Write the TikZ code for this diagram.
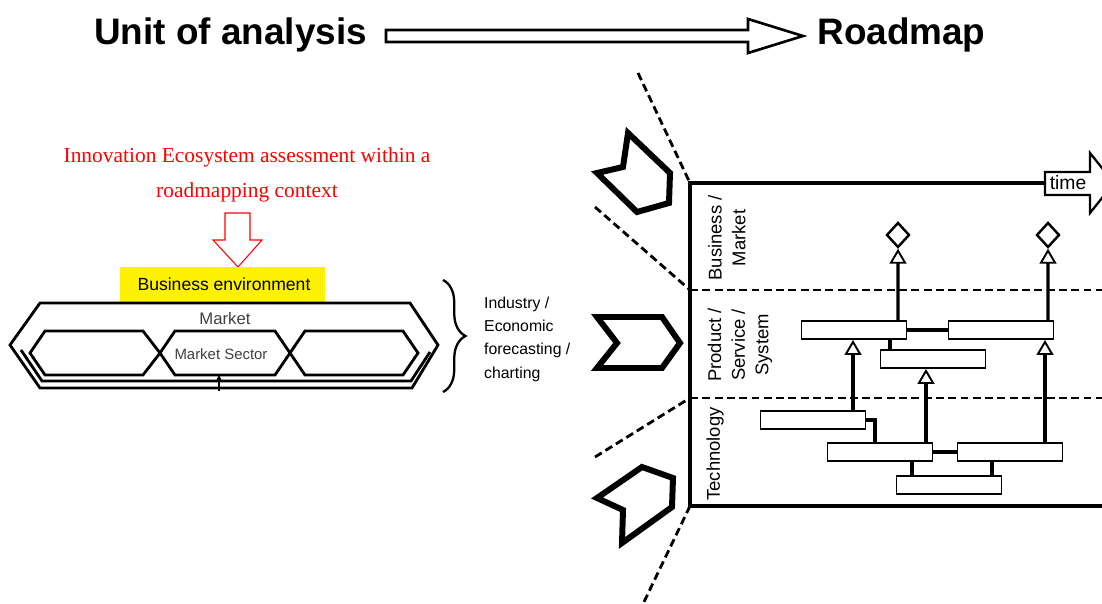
\documentclass[tikz,border=0pt]{standalone}
\usepackage{fontspec}
\setmainfont{Liberation Sans}
\newfontfamily\redserif{Liberation Serif}
\usetikzlibrary{arrows.meta,shapes.geometric,decorations.pathreplacing}

\begin{document}
\begin{tikzpicture}[x=0.02cm,y=-0.02cm,
    bar/.style={draw,line width=1.1pt,fill=white,minimum width=2.1cm,minimum height=0.36cm,inner sep=0pt},
    goal/.style={draw,diamond,line width=1.4pt,minimum width=0.46cm,minimum height=0.5cm,inner sep=0pt},
    link/.style={line width=1.8pt},
    up/.style={line width=1.8pt,-{Triangle[open,length=0.3cm,width=0.34cm,line width=1.1pt]}},
    lane/.style={rotate=90,align=center,font=\fontsize{10.5}{13.5}\selectfont},
    chev/.style={line width=3.4pt,line join=miter},
    hexa/.style={line width=1.6pt,line join=miter},
    split/.style={line width=1.6pt,dash pattern=on 4.5pt off 2.5pt},
    title/.style={font=\fontsize{21}{24}\selectfont\bfseries,inner sep=0pt}]
    \useasboundingbox (0,0) rectangle (1102,604);

    % heading
    \node [title,anchor=base west] (unit) at (94,45) {Unit of analysis};
    \node [title,anchor=base west] (road) at (817,45) {Roadmap};
    \draw [line width=1.5pt,line join=miter] (386,30) -- (748,30) -- (748,19) -- (803,36)
        -- (748,53) -- (748,42) -- (386,42) -- cycle;

    % left: unit of analysis
    \node [text=red,align=center,font=\redserif\fontsize{12.2}{20}\selectfont] (eco) at (247,175)
        {Innovation Ecosystem assessment within a\\roadmapping context};
    \draw [red,line width=0.6pt] (225,213) -- (250,213) -- (250,240) -- (262,240) -- (238,267)
        -- (213,240) -- (225,240) -- cycle;
    \fill [yellow] (120,267) rectangle (325,302);
    \node [font=\fontsize{10}{12}\selectfont] (busenv) at (224,284) {Business environment};

    \draw [hexa] (10,345) -- (40,303) -- (410,303) -- (438,345) -- (412,388) -- (40,388) -- cycle;
    \draw [hexa] (21,350) -- (42,381) -- (411,381) -- (430,352);
    \draw [hexa] (30,353) -- (45,331) -- (143,331) -- (160,353) -- (143,375) -- (45,375) -- cycle;
    \draw [hexa] (160,353) -- (175,331) -- (275,331) -- (290,353) -- (275,375) -- (175,375) -- cycle;
    \draw [hexa] (290,353) -- (305,331) -- (403,331) -- (418,353) -- (403,375) -- (305,375) -- cycle;
    \node [text=black!75,font=\fontsize{9.5}{11}\selectfont] (market) at (225,319) {Market};
    \node [text=black!75,font=\fontsize{8.5}{10}\selectfont] (sector) at (221,354) {Market Sector};
    \draw [line width=1pt,-{Stealth[length=4pt,width=4pt]}] (219,391) -- (219,375);

    \draw [line width=1.3pt,decorate,decoration={brace,amplitude=0.45cm}] (443,280) -- (443,392);
    \node [anchor=west,align=left,font=\fontsize{9}{13.3}\selectfont] (fore) at (478,339)
        {Industry /\\Economic\\forecasting /\\charting};

    % right: roadmap frame
    \coordinate (tl) at (690,183);
    \coordinate (ml) at (690,290);
    \coordinate (ll) at (690,398);
    \coordinate (bl) at (690,506);
    \draw [line width=1.3pt,line join=miter] (1045,172) -- (1090,172) -- (1090,153) -- (1114,183)
        -- (1090,213) -- (1090,195) -- (1045,195) -- cycle;
    \node [font=\fontsize{11}{12}\selectfont] (time) at (1068,183) {time};
    \draw [line width=1.8pt] (1045,183) -- (tl) -- (bl) -- (1102,506);
    \draw [split] (ml) -- (1102,290);
    \draw [split] (ll) -- (1102,398);
    \draw [split] (638,73) -- (tl);
    \draw [split] (595,207) -- (ml);
    \draw [split] (595,457) -- (ll);
    \draw [split] (bl) -- (643,604);

    \draw [chev] (628,133) -- (670,173) -- (669,203) -- (637,212) -- (597,173) -- (623,167) -- cycle;
    \draw [chev] (597,317) -- (662,317) -- (680,343) -- (662,368) -- (597,368) -- (617,343) -- cycle;
    \draw [chev] (642,467) -- (673,478) -- (672,507) -- (622,543) -- (623,510) -- (597,498) -- cycle;

    \node [lane] (busmk) at (727,238) {Business /\\Market};
    \node [lane] (prod) at (740,345) {Product /\\Service /\\System};
    \node [lane] (tech) at (715,454) {Technology};

    % roadmap bars
    \node [bar] (b1) at (854,330) {};
    \node [bar] (b2) at (1001,330) {};
    \node [bar] (b3) at (933,359) {};
    \node [bar] (b4) at (813,420) {};
    \node [bar] (b5) at (880,452) {};
    \node [bar] (b6) at (1010,452) {};
    \node [bar] (b7) at (949,485) {};
    \node [goal] (d1) at (898,235) {};
    \node [goal] (d2) at (1048,235) {};

    \draw [link] (b1.east) -- (b2.west);
    \draw [link] ([xshift=-0.86cm]b3.north) -- ([xshift=-0.86cm]b3.north |- b1.south);
    \draw [link] (b4.east) -| ([xshift=-0.1cm]b5.north);
    \draw [link] (b5.east) -- (b6.west);
    \draw [link] ([xshift=-0.74cm]b7.north) -- ([xshift=-0.74cm]b7.north |- b5.south);
    \draw [link] ([xshift=0.86cm]b7.north) -- ([xshift=0.86cm]b7.north |- b6.south);

    \draw [up] ([xshift=0.8cm]b4.north) -- ([xshift=0.8cm]b4.north |- b1.south);
    \draw [up] ([xshift=0.92cm]b5.north) -- ([xshift=0.92cm]b5.north |- b3.south);
    \draw [up] ([xshift=0.7cm]b6.north) -- ([xshift=0.7cm]b6.north |- b2.south);
    \draw [up] ([xshift=0.88cm]b1.north) -- (d1.south);
    \draw [up] ([xshift=0.94cm]b2.north) -- (d2.south);
\end{tikzpicture}
\end{document}
